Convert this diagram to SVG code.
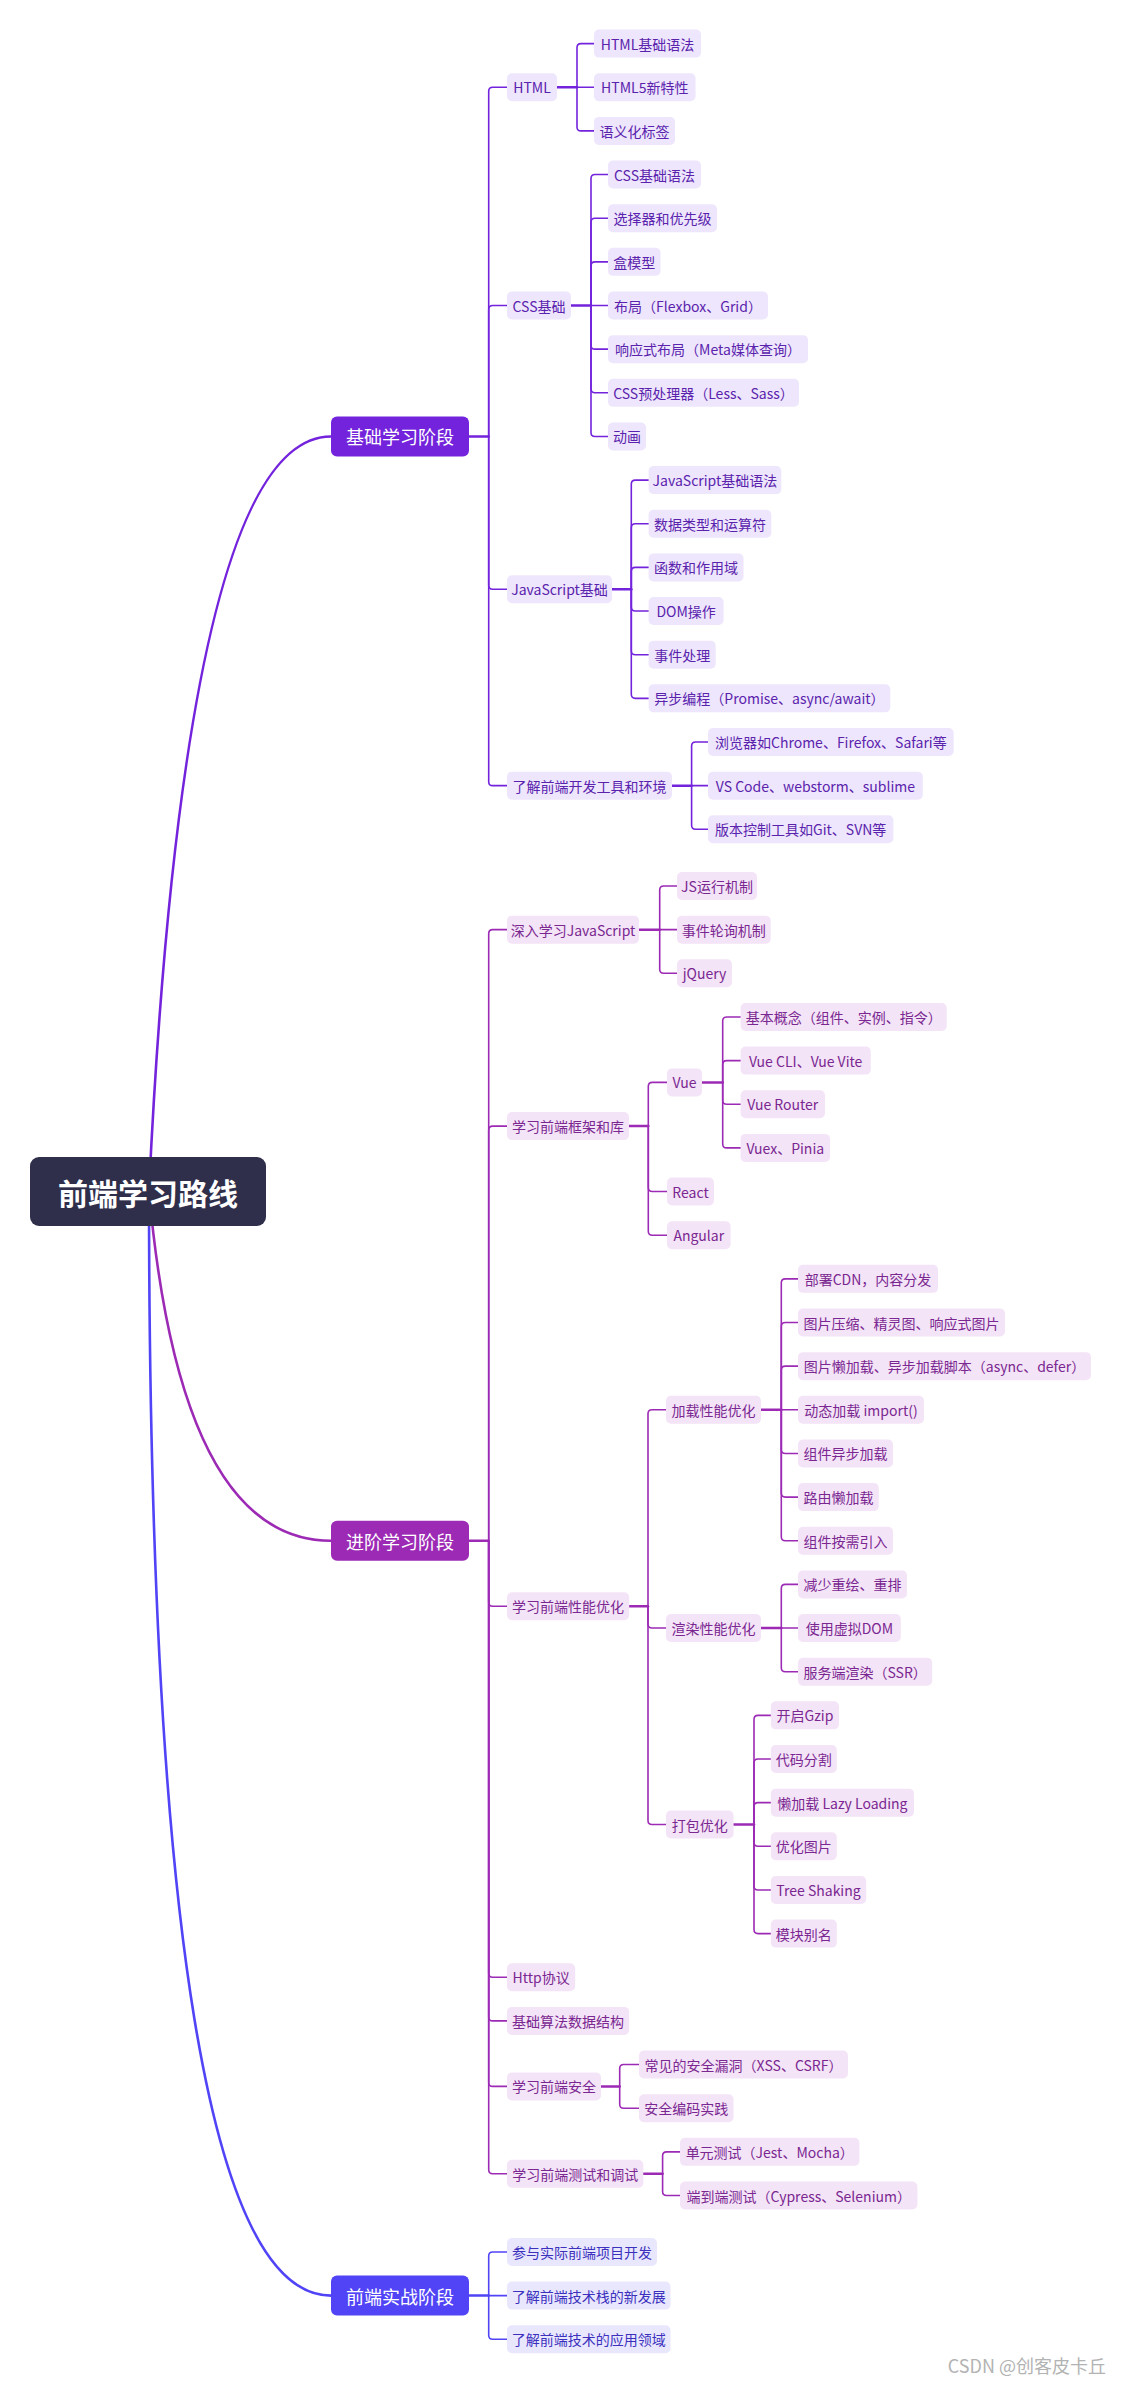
<svg xmlns="http://www.w3.org/2000/svg" width="1122" height="2383" viewBox="0 0 1122 2383">
<style>
text{font-family:"Noto Sans CJK SC","Noto Sans",sans-serif;dominant-baseline:central;text-anchor:middle}
.t{font-size:14px}
.st{font-size:18px;fill:#fff}
.rt{font-size:30px;font-weight:bold;fill:#fff}
.bb{fill:#eee6fc}.bt{fill:#5a23ad}
.ab{fill:#f4e4f7}.at{fill:#7a2791}
.pb{fill:#e9e7fe}.pt{fill:#3b31bd}
path{fill:none;stroke-linecap:round}
.cb{stroke:#7323dc}.ca{stroke:#9c2ab5}.cp{stroke:#5044f6}
.w1{stroke-width:1.6}.w2{stroke-width:2.5}.w3{stroke-width:2.6}
.wm{font-size:18px;fill:#b3b3b3;text-anchor:end}
</style>
<rect width="1122" height="2383" fill="#fff"/>
<g id="connectors">
<path class="cb w3" d="M149 1191 Q185 436.45 331 436.45"/>
<path class="ca w3" d="M149 1191 Q180 1540.75 331 1540.75"/>
<path class="cp w3" d="M149 1191 Q149 2295.6 331 2295.6"/>
<g class="cb w1">
<path class="w2" d="M469 436.45 H488.7"/>
<path d="M488.7 436.45 V91.25 Q488.7 87.25 492.7 87.25 H507"/>
<path d="M488.7 436.45 V309.5 Q488.7 305.5 492.7 305.5 H507"/>
<path d="M488.7 436.45 V585.2 Q488.7 589.2 492.7 589.2 H507"/>
<path d="M488.7 436.45 V781.65 Q488.7 785.65 492.7 785.65 H507"/>
<path class="w2" d="M557 87.25 H577"/>
<path d="M577 87.25 V47.6 Q577 43.6 581 43.6 H594"/>
<path d="M577 87.25 H594"/>
<path d="M577 87.25 V126.9 Q577 130.9 581 130.9 H594"/>
<path class="w2" d="M571 305.5 H591"/>
<path d="M591 305.5 V178.55 Q591 174.55 595 174.55 H608"/>
<path d="M591 305.5 V222.2 Q591 218.2 595 218.2 H608"/>
<path d="M591 305.5 V265.85 Q591 261.85 595 261.85 H608"/>
<path d="M591 305.5 H608"/>
<path d="M591 305.5 V345.15 Q591 349.15 595 349.15 H608"/>
<path d="M591 305.5 V388.8 Q591 392.8 595 392.8 H608"/>
<path d="M591 305.5 V432.45 Q591 436.45 595 436.45 H608"/>
<path class="w2" d="M612 589.2 H631.3"/>
<path d="M631.3 589.2 V484.1 Q631.3 480.1 635.3 480.1 H648.6"/>
<path d="M631.3 589.2 V527.75 Q631.3 523.75 635.3 523.75 H648.6"/>
<path d="M631.3 589.2 V571.4 Q631.3 567.4 635.3 567.4 H648.6"/>
<path d="M631.3 589.2 V607.05 Q631.3 611.05 635.3 611.05 H648.6"/>
<path d="M631.3 589.2 V650.7 Q631.3 654.7 635.3 654.7 H648.6"/>
<path d="M631.3 589.2 V694.35 Q631.3 698.35 635.3 698.35 H648.6"/>
<path class="w2" d="M672 785.65 H691.6"/>
<path d="M691.6 785.65 V746 Q691.6 742 695.6 742 H708"/>
<path d="M691.6 785.65 H708"/>
<path d="M691.6 785.65 V825.3 Q691.6 829.3 695.6 829.3 H708"/>
</g>
<g class="ca w1">
<path class="w2" d="M469 1540.75 H488.7"/>
<path d="M488.7 1540.75 V933.65 Q488.7 929.65 492.7 929.65 H507"/>
<path d="M488.7 1540.75 V1130.1 Q488.7 1126.1 492.7 1126.1 H507"/>
<path d="M488.7 1540.75 V1602.2 Q488.7 1606.2 492.7 1606.2 H507"/>
<path d="M488.7 1540.75 V1973.25 Q488.7 1977.25 492.7 1977.25 H507"/>
<path d="M488.7 1540.75 V2016.9 Q488.7 2020.9 492.7 2020.9 H507"/>
<path d="M488.7 1540.75 V2082.4 Q488.7 2086.4 492.7 2086.4 H507"/>
<path d="M488.7 1540.75 V2169.7 Q488.7 2173.7 492.7 2173.7 H507"/>
<path class="w2" d="M639 929.65 H659.7"/>
<path d="M659.7 929.65 V890 Q659.7 886 663.7 886 H677"/>
<path d="M659.7 929.65 H677"/>
<path d="M659.7 929.65 V969.3 Q659.7 973.3 663.7 973.3 H677"/>
<path class="w2" d="M629 1126.1 H648.3"/>
<path d="M648.3 1126.1 V1086.4 Q648.3 1082.4 652.3 1082.4 H667"/>
<path d="M648.3 1126.1 V1187.55 Q648.3 1191.55 652.3 1191.55 H667"/>
<path d="M648.3 1126.1 V1231.2 Q648.3 1235.2 652.3 1235.2 H667"/>
<path class="w2" d="M702 1082.4 H722.7"/>
<path d="M722.7 1082.4 V1020.95 Q722.7 1016.95 726.7 1016.95 H740.6"/>
<path d="M722.7 1082.4 V1064.6 Q722.7 1060.6 726.7 1060.6 H740.6"/>
<path d="M722.7 1082.4 V1100.25 Q722.7 1104.25 726.7 1104.25 H740.6"/>
<path d="M722.7 1082.4 V1143.9 Q722.7 1147.9 726.7 1147.9 H740.6"/>
<path class="w2" d="M629.2 1606.2 H648"/>
<path d="M648 1606.2 V1413.8 Q648 1409.8 652 1409.8 H666"/>
<path d="M648 1606.2 V1624.05 Q648 1628.05 652 1628.05 H666"/>
<path d="M648 1606.2 V1820.5 Q648 1824.5 652 1824.5 H666"/>
<path class="w2" d="M761 1409.8 H781.3"/>
<path d="M781.3 1409.8 V1282.85 Q781.3 1278.85 785.3 1278.85 H798"/>
<path d="M781.3 1409.8 V1326.5 Q781.3 1322.5 785.3 1322.5 H798"/>
<path d="M781.3 1409.8 V1370.15 Q781.3 1366.15 785.3 1366.15 H798"/>
<path d="M781.3 1409.8 H798"/>
<path d="M781.3 1409.8 V1449.45 Q781.3 1453.45 785.3 1453.45 H798"/>
<path d="M781.3 1409.8 V1493.1 Q781.3 1497.1 785.3 1497.1 H798"/>
<path d="M781.3 1409.8 V1536.75 Q781.3 1540.75 785.3 1540.75 H798"/>
<path class="w2" d="M761 1628.05 H781.3"/>
<path d="M781.3 1628.05 V1588.4 Q781.3 1584.4 785.3 1584.4 H798"/>
<path d="M781.3 1628.05 H798"/>
<path d="M781.3 1628.05 V1667.7 Q781.3 1671.7 785.3 1671.7 H798"/>
<path class="w2" d="M733.6 1824.5 H754"/>
<path d="M754 1824.5 V1719.35 Q754 1715.35 758 1715.35 H770.8"/>
<path d="M754 1824.5 V1763 Q754 1759 758 1759 H770.8"/>
<path d="M754 1824.5 V1806.65 Q754 1802.65 758 1802.65 H770.8"/>
<path d="M754 1824.5 V1842.3 Q754 1846.3 758 1846.3 H770.8"/>
<path d="M754 1824.5 V1885.95 Q754 1889.95 758 1889.95 H770.8"/>
<path d="M754 1824.5 V1929.6 Q754 1933.6 758 1933.6 H770.8"/>
<path class="w2" d="M601 2086.4 H619.7"/>
<path d="M619.7 2086.4 V2068.55 Q619.7 2064.55 623.7 2064.55 H639"/>
<path d="M619.7 2086.4 V2104.2 Q619.7 2108.2 623.7 2108.2 H639"/>
<path class="w2" d="M643.3 2173.7 H662.6"/>
<path d="M662.6 2173.7 V2155.85 Q662.6 2151.85 666.6 2151.85 H680"/>
<path d="M662.6 2173.7 V2191.5 Q662.6 2195.5 666.6 2195.5 H680"/>
</g>
<g class="cp w1">
<path class="w2" d="M469 2295.6 H488.7"/>
<path d="M488.7 2295.6 V2256 Q488.7 2252 492.7 2252 H507"/>
<path d="M488.7 2295.6 H507"/>
<path d="M488.7 2295.6 V2335.2 Q488.7 2339.2 492.7 2339.2 H507"/>
</g>
</g>

<g id="root"><rect x="30" y="1157" width="236" height="69" rx="9" fill="#2f2e4b"/><text class="rt" x="148" y="1191.5">前端学习路线</text></g>

<g id="stage-basic"><rect x="331" y="416.45" width="138" height="40" rx="6" fill="#7323dc"/><text class="st" x="400" y="436.45">基础学习阶段</text></g>
<g id="stage-advanced"><rect x="331" y="1520.75" width="138" height="40" rx="6" fill="#9c2ab5"/><text class="st" x="400" y="1540.75">进阶学习阶段</text></g>
<g id="stage-practical"><rect x="331" y="2275.6" width="138" height="40" rx="6" fill="#5044f6"/><text class="st" x="400" y="2295.6">前端实战阶段</text></g>

<g id="n-html"><rect class="bb" x="507" y="73.25" width="50" height="28" rx="5"/><text class="t bt" x="532" y="87.25">HTML</text></g>
<g id="n-html-1"><rect class="bb" x="594" y="29.6" width="107" height="28" rx="5"/><text class="t bt" x="647.5" y="43.6">HTML基础语法</text></g>
<g id="n-html-2"><rect class="bb" x="594" y="73.25" width="101.5" height="28" rx="5"/><text class="t bt" x="644.75" y="87.25">HTML5新特性</text></g>
<g id="n-html-3"><rect class="bb" x="594" y="116.9" width="81" height="28" rx="5"/><text class="t bt" x="634.5" y="130.9">语义化标签</text></g>

<g id="n-css"><rect class="bb" x="507" y="291.5" width="64" height="28" rx="5"/><text class="t bt" x="539" y="305.5">CSS基础</text></g>
<g id="n-css-1"><rect class="bb" x="608" y="160.55" width="93" height="28" rx="5"/><text class="t bt" x="654.5" y="174.55">CSS基础语法</text></g>
<g id="n-css-2"><rect class="bb" x="608" y="204.2" width="109" height="28" rx="5"/><text class="t bt" x="662.5" y="218.2">选择器和优先级</text></g>
<g id="n-css-3"><rect class="bb" x="608" y="247.85" width="52.5" height="28" rx="5"/><text class="t bt" x="634.25" y="261.85">盒模型</text></g>
<g id="n-css-4"><rect class="bb" x="608" y="291.5" width="160" height="28" rx="5"/><text class="t bt" x="688" y="305.5">布局（Flexbox、Grid）</text></g>
<g id="n-css-5"><rect class="bb" x="608" y="335.15" width="200" height="28" rx="5"/><text class="t bt" x="708" y="349.15">响应式布局（Meta媒体查询）</text></g>
<g id="n-css-6"><rect class="bb" x="608" y="378.8" width="191" height="28" rx="5"/><text class="t bt" x="703.5" y="392.8">CSS预处理器（Less、Sass）</text></g>
<g id="n-css-7"><rect class="bb" x="608" y="422.45" width="38" height="28" rx="5"/><text class="t bt" x="627" y="436.45">动画</text></g>

<g id="n-js"><rect class="bb" x="507" y="575.2" width="105" height="28" rx="5"/><text class="t bt" x="559.5" y="589.2">JavaScript基础</text></g>
<g id="n-js-1"><rect class="bb" x="648.6" y="466.1" width="132.7" height="28" rx="5"/><text class="t bt" x="714.95" y="480.1">JavaScript基础语法</text></g>
<g id="n-js-2"><rect class="bb" x="648.6" y="509.75" width="122.7" height="28" rx="5"/><text class="t bt" x="709.95" y="523.75">数据类型和运算符</text></g>
<g id="n-js-3"><rect class="bb" x="648.6" y="553.4" width="94.9" height="28" rx="5"/><text class="t bt" x="696.05" y="567.4">函数和作用域</text></g>
<g id="n-js-4"><rect class="bb" x="648.6" y="597.05" width="75" height="28" rx="5"/><text class="t bt" x="686.1" y="611.05">DOM操作</text></g>
<g id="n-js-5"><rect class="bb" x="648.6" y="640.7" width="67.1" height="28" rx="5"/><text class="t bt" x="682.15" y="654.7">事件处理</text></g>
<g id="n-js-6"><rect class="bb" x="648.6" y="684.35" width="241.7" height="28" rx="5"/><text class="t bt" x="769.45" y="698.35">异步编程（Promise、async/await）</text></g>

<g id="n-tools"><rect class="bb" x="507" y="771.65" width="165" height="28" rx="5"/><text class="t bt" x="589.5" y="785.65">了解前端开发工具和环境</text></g>
<g id="n-tools-1"><rect class="bb" x="708" y="728" width="245.7" height="28" rx="5"/><text class="t bt" x="830.85" y="742">浏览器如Chrome、Firefox、Safari等</text></g>
<g id="n-tools-2"><rect class="bb" x="708" y="771.65" width="214.8" height="28" rx="5"/><text class="t bt" x="815.4" y="785.65">VS Code、webstorm、sublime</text></g>
<g id="n-tools-3"><rect class="bb" x="708" y="815.3" width="185.4" height="28" rx="5"/><text class="t bt" x="800.7" y="829.3">版本控制工具如Git、SVN等</text></g>

<g id="n-deepjs"><rect class="ab" x="507" y="915.65" width="132" height="28" rx="5"/><text class="t at" x="573" y="929.65">深入学习JavaScript</text></g>
<g id="n-deepjs-1"><rect class="ab" x="677" y="872" width="80" height="28" rx="5"/><text class="t at" x="717" y="886">JS运行机制</text></g>
<g id="n-deepjs-2"><rect class="ab" x="677" y="915.65" width="93.7" height="28" rx="5"/><text class="t at" x="723.85" y="929.65">事件轮询机制</text></g>
<g id="n-deepjs-3"><rect class="ab" x="677" y="959.3" width="55" height="28" rx="5"/><text class="t at" x="704.5" y="973.3">jQuery</text></g>

<g id="n-fw"><rect class="ab" x="507" y="1112.1" width="122" height="28" rx="5"/><text class="t at" x="568" y="1126.1">学习前端框架和库</text></g>
<g id="n-vue"><rect class="ab" x="667" y="1068.4" width="35" height="28" rx="5"/><text class="t at" x="684.5" y="1082.4">Vue</text></g>
<g id="n-vue-1"><rect class="ab" x="740.6" y="1002.95" width="206.1" height="28" rx="5"/><text class="t at" x="843.65" y="1016.95">基本概念（组件、实例、指令）</text></g>
<g id="n-vue-2"><rect class="ab" x="740.6" y="1046.6" width="130.2" height="28" rx="5"/><text class="t at" x="805.7" y="1060.6">Vue CLI、Vue Vite</text></g>
<g id="n-vue-3"><rect class="ab" x="740.6" y="1090.25" width="84.4" height="28" rx="5"/><text class="t at" x="782.8" y="1104.25">Vue Router</text></g>
<g id="n-vue-4"><rect class="ab" x="740.6" y="1133.9" width="89.4" height="28" rx="5"/><text class="t at" x="785.3" y="1147.9">Vuex、Pinia</text></g>
<g id="n-react"><rect class="ab" x="667" y="1177.55" width="47" height="28" rx="5"/><text class="t at" x="690.5" y="1191.55">React</text></g>
<g id="n-angular"><rect class="ab" x="667" y="1221.2" width="63.6" height="28" rx="5"/><text class="t at" x="698.8" y="1235.2">Angular</text></g>

<g id="n-perf"><rect class="ab" x="507" y="1592.2" width="122.2" height="28" rx="5"/><text class="t at" x="568.1" y="1606.2">学习前端性能优化</text></g>
<g id="n-load"><rect class="ab" x="666" y="1395.8" width="95" height="28" rx="5"/><text class="t at" x="713.5" y="1409.8">加载性能优化</text></g>
<g id="n-load-1"><rect class="ab" x="798" y="1264.85" width="140" height="28" rx="5"/><text class="t at" x="868" y="1278.85">部署CDN，内容分发</text></g>
<g id="n-load-2"><rect class="ab" x="798" y="1308.5" width="207" height="28" rx="5"/><text class="t at" x="901.5" y="1322.5">图片压缩、精灵图、响应式图片</text></g>
<g id="n-load-3"><rect class="ab" x="798" y="1352.15" width="293" height="28" rx="5"/><text class="t at" x="944.5" y="1366.15">图片懒加载、异步加载脚本（async、defer）</text></g>
<g id="n-load-4"><rect class="ab" x="798" y="1395.8" width="126" height="28" rx="5"/><text class="t at" x="861" y="1409.8">动态加载 import()</text></g>
<g id="n-load-5"><rect class="ab" x="798" y="1439.45" width="95" height="28" rx="5"/><text class="t at" x="845.5" y="1453.45">组件异步加载</text></g>
<g id="n-load-6"><rect class="ab" x="798" y="1483.1" width="80.8" height="28" rx="5"/><text class="t at" x="838.4" y="1497.1">路由懒加载</text></g>
<g id="n-load-7"><rect class="ab" x="798" y="1526.75" width="95" height="28" rx="5"/><text class="t at" x="845.5" y="1540.75">组件按需引入</text></g>
<g id="n-render"><rect class="ab" x="666" y="1614.05" width="95" height="28" rx="5"/><text class="t at" x="713.5" y="1628.05">渲染性能优化</text></g>
<g id="n-render-1"><rect class="ab" x="798" y="1570.4" width="109" height="28" rx="5"/><text class="t at" x="852.5" y="1584.4">减少重绘、重排</text></g>
<g id="n-render-2"><rect class="ab" x="798" y="1614.05" width="102.8" height="28" rx="5"/><text class="t at" x="849.4" y="1628.05">使用虚拟DOM</text></g>
<g id="n-render-3"><rect class="ab" x="798" y="1657.7" width="134.2" height="28" rx="5"/><text class="t at" x="865.1" y="1671.7">服务端渲染（SSR）</text></g>
<g id="n-pack"><rect class="ab" x="666" y="1810.5" width="67.6" height="28" rx="5"/><text class="t at" x="699.8" y="1824.5">打包优化</text></g>
<g id="n-pack-1"><rect class="ab" x="770.8" y="1701.35" width="68.2" height="28" rx="5"/><text class="t at" x="804.9" y="1715.35">开启Gzip</text></g>
<g id="n-pack-2"><rect class="ab" x="770.8" y="1745" width="66" height="28" rx="5"/><text class="t at" x="803.8" y="1759">代码分割</text></g>
<g id="n-pack-3"><rect class="ab" x="770.8" y="1788.65" width="143.2" height="28" rx="5"/><text class="t at" x="842.4" y="1802.65">懒加载 Lazy Loading</text></g>
<g id="n-pack-4"><rect class="ab" x="770.8" y="1832.3" width="66" height="28" rx="5"/><text class="t at" x="803.8" y="1846.3">优化图片</text></g>
<g id="n-pack-5"><rect class="ab" x="770.8" y="1875.95" width="95.4" height="28" rx="5"/><text class="t at" x="818.5" y="1889.95">Tree Shaking</text></g>
<g id="n-pack-6"><rect class="ab" x="770.8" y="1919.6" width="66" height="28" rx="5"/><text class="t at" x="803.8" y="1933.6">模块别名</text></g>

<g id="n-http"><rect class="ab" x="507" y="1963.25" width="68.2" height="28" rx="5"/><text class="t at" x="541.1" y="1977.25">Http协议</text></g>
<g id="n-algo"><rect class="ab" x="507" y="2006.9" width="122.2" height="28" rx="5"/><text class="t at" x="568.1" y="2020.9">基础算法数据结构</text></g>
<g id="n-sec"><rect class="ab" x="507" y="2072.4" width="94" height="28" rx="5"/><text class="t at" x="554" y="2086.4">学习前端安全</text></g>
<g id="n-sec-1"><rect class="ab" x="639" y="2050.55" width="209" height="28" rx="5"/><text class="t at" x="743.5" y="2064.55">常见的安全漏洞（XSS、CSRF）</text></g>
<g id="n-sec-2"><rect class="ab" x="639" y="2094.2" width="94.5" height="28" rx="5"/><text class="t at" x="686.25" y="2108.2">安全编码实践</text></g>
<g id="n-test"><rect class="ab" x="507" y="2159.7" width="136.3" height="28" rx="5"/><text class="t at" x="575.15" y="2173.7">学习前端测试和调试</text></g>
<g id="n-test-1"><rect class="ab" x="680" y="2137.85" width="179.4" height="28" rx="5"/><text class="t at" x="769.7" y="2151.85">单元测试（Jest、Mocha）</text></g>
<g id="n-test-2"><rect class="ab" x="680" y="2181.5" width="237.4" height="28" rx="5"/><text class="t at" x="798.7" y="2195.5">端到端测试（Cypress、Selenium）</text></g>

<g id="n-prac-1"><rect class="pb" x="507" y="2238" width="150" height="28" rx="5"/><text class="t pt" x="582" y="2252">参与实际前端项目开发</text></g>
<g id="n-prac-2"><rect class="pb" x="507" y="2281.6" width="163.5" height="28" rx="5"/><text class="t pt" x="588.75" y="2295.6">了解前端技术栈的新发展</text></g>
<g id="n-prac-3"><rect class="pb" x="507" y="2325.2" width="163.5" height="28" rx="5"/><text class="t pt" x="588.75" y="2339.2">了解前端技术的应用领域</text></g>

<text class="wm" x="1106" y="2365">CSDN @创客皮卡丘</text>
</svg>
